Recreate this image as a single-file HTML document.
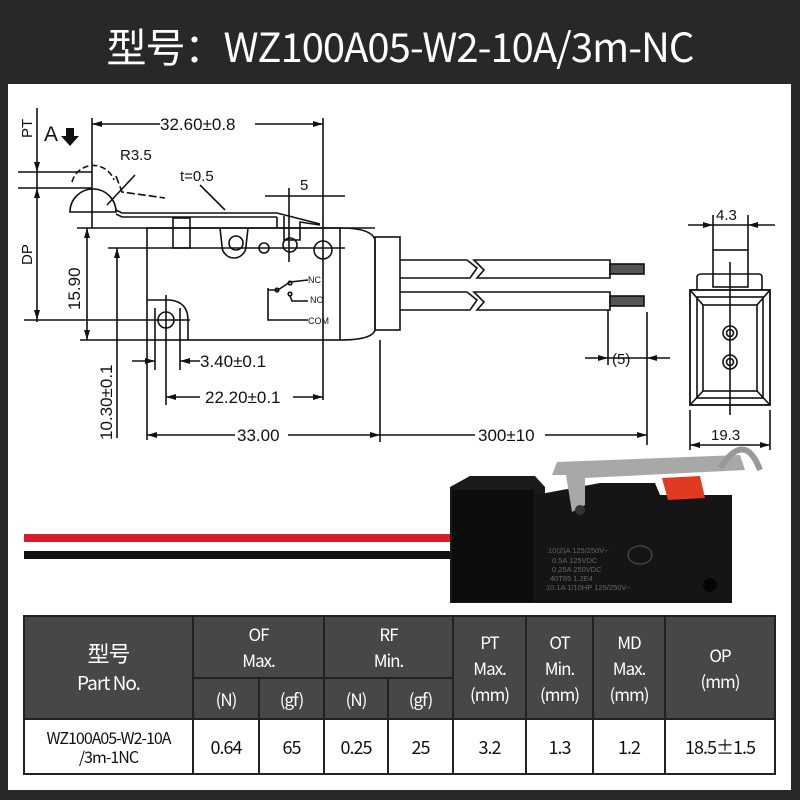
<!DOCTYPE html>
<html><head><meta charset="utf-8"><style>
html,body{margin:0;padding:0;background:#282828;}
body{width:800px;height:800px;position:relative;overflow:hidden;font-family:"Liberation Sans","Noto Sans CJK SC",sans-serif;}
.title{position:absolute;left:0;top:20px;width:800px;text-align:center;color:#fff;font-family:"Noto Sans CJK SC",sans-serif;font-size:40px;line-height:50px;letter-spacing:-1px;}
.panel{position:absolute;left:8px;top:84px;width:783px;height:706px;background:#fff;}
svg{position:absolute;left:0;top:0;}
table{position:absolute;left:23px;top:615px;width:753px;height:158px;border-collapse:collapse;font-family:"Noto Sans CJK SC",sans-serif;}
td{border:2px solid #222;text-align:center;padding:0;line-height:26px;font-size:17px;letter-spacing:-1px;}
.h{background:#474747;color:#fff;}
.d{background:#fff;color:#111;font-size:18px;}
</style></head><body>
<div class="title">型号：WZ100A05-W2-10A/3m-NC</div>
<div class="panel"></div>
<svg width="800" height="800" viewBox="0 0 800 800" font-family="Liberation Sans, sans-serif">
<g stroke="#111" stroke-width="1.6" fill="none">
<line x1="37" y1="108" x2="37" y2="322"/>
<line x1="18" y1="172" x2="92" y2="172"/>
<line x1="18" y1="188" x2="92" y2="188"/>
<line x1="24" y1="320" x2="190" y2="320"/>
<line x1="92" y1="118" x2="92" y2="228"/>
<line x1="323" y1="118" x2="323" y2="400"/>
<line x1="92" y1="124" x2="160" y2="124"/>
<line x1="255" y1="124" x2="323" y2="124"/>
<path d="M72 182 A22 22 0 0 1 114 180" stroke-dasharray="6 3"/>
<path d="M70 212 A23 23 0 0 1 116 212 Z"/>
<path d="M116 176 L122 192 L165 198" stroke-dasharray="8 3"/>
<line x1="107" y1="205" x2="135" y2="175"/>
<path d="M116 210 L122 213 L277 213 L320 224"/>
<path d="M116 214 L122 217 L277 217"/>
<line x1="200" y1="185" x2="225" y2="210"/>
<line x1="265" y1="196" x2="345" y2="196"/>
<line x1="289" y1="188" x2="289" y2="262"/>
<line x1="77" y1="228" x2="375" y2="228"/>
<line x1="108" y1="248" x2="345" y2="248"/>
<rect x="147" y="228" width="193" height="112"/>
<path d="M340 228 Q372 228 375 240 L375 330 Q372 340 340 340"/>
<rect x="375" y="237" width="25" height="93"/>
<rect x="173" y="218" width="17" height="30"/>
<path d="M220 228 L222 246 A12 12 0 0 0 246 246 L248 228"/>
<circle cx="236" cy="243" r="7"/>
<circle cx="264" cy="248" r="5"/>
<circle cx="290" cy="245" r="7"/>
<circle cx="323" cy="250" r="9"/>
<path d="M277 217 L277 228 M284 216 L284 240 L300 240 L300 222 L320 225"/>
<path d="M147 300 L170 300 Q188 302 188 320 L188 340"/>
<circle cx="166" cy="320" r="8"/>
<line x1="155" y1="308" x2="155" y2="370"/>
<line x1="180" y1="308" x2="180" y2="370"/>
<line x1="166" y1="295" x2="166" y2="405"/>
<path d="M268 288 L268 320 L308 320"/>
<path d="M268 290 L278 290 L290 282 L308 280"/>
<path d="M290 296 L292 301 L308 301"/>
<circle cx="277" cy="290" r="1.8"/>
<circle cx="290" cy="283" r="1.8"/>
<circle cx="290" cy="294" r="1.8"/>
<line x1="87" y1="228" x2="87" y2="340"/>
<line x1="80" y1="340" x2="147" y2="340"/>
<line x1="117" y1="248" x2="117" y2="438"/>
<line x1="132" y1="361" x2="155" y2="361"/>
<line x1="180" y1="361" x2="200" y2="361"/>
<line x1="166" y1="397" x2="200" y2="397"/>
<line x1="293" y1="397" x2="323" y2="397"/>
<line x1="147" y1="340" x2="147" y2="440"/>
<line x1="380" y1="340" x2="380" y2="442"/>
<line x1="147" y1="435" x2="235" y2="435"/>
<line x1="288" y1="435" x2="475" y2="435"/>
<line x1="545" y1="435" x2="647" y2="435"/>
<line x1="647" y1="312" x2="647" y2="445"/>
<path d="M400 260 L467 260 L477 268 L470 278 L400 278"/>
<path d="M474 260 L610 260 L610 278 L477 278 L484 270 Z"/>
<path d="M400 292 L467 292 L477 300 L470 310 L400 310"/>
<path d="M474 292 L610 292 L610 310 L477 310 L484 302 Z"/>
<rect x="610" y="264" width="34" height="10" fill="#555"/>
<rect x="610" y="296" width="34" height="10" fill="#555"/>
<line x1="608" y1="310" x2="608" y2="365"/>
<line x1="585" y1="358" x2="670" y2="358"/>
<line x1="688" y1="225" x2="775" y2="225"/>
<line x1="713" y1="215" x2="713" y2="250"/>
<line x1="748" y1="215" x2="748" y2="250"/>
<rect x="713" y="250" width="35" height="37"/>
<path d="M697 290 L697 277 Q697 274 702 274 L758 274 Q762 274 762 277 L762 290"/>
<rect x="690" y="290" width="80" height="115" stroke-width="1.8"/>
<rect x="697" y="297" width="66" height="101"/>
<rect x="703" y="305" width="54" height="86"/>
<line x1="690" y1="290" x2="703" y2="305"/><line x1="770" y1="290" x2="757" y2="305"/>
<line x1="690" y1="405" x2="703" y2="391"/><line x1="770" y1="405" x2="757" y2="391"/>
<circle cx="730" cy="333" r="7"/><circle cx="730" cy="333" r="3.5"/>
<circle cx="730" cy="362" r="7"/><circle cx="730" cy="362" r="3.5"/>
<line x1="730" y1="262" x2="730" y2="415"/>
<line x1="690" y1="410" x2="690" y2="450"/>
<line x1="770" y1="410" x2="770" y2="450"/>
<line x1="690" y1="445" x2="770" y2="445"/>
</g>
<g fill="#111">
<polygon points="92,124 102,121 102,127"/><polygon points="323,124 313,121 313,127"/>
<polygon points="87,228 84,238 90,238"/><polygon points="87,340 84,330 90,330"/>
<polygon points="117,248 114,258 120,258"/><polygon points="37,172 34,162 40,162"/><polygon points="37,188 34,198 40,198"/><polygon points="37,320 34,310 40,310"/>
<polygon points="155,361 145,358 145,364"/><polygon points="180,361 190,358 190,364"/>
<polygon points="166,397 176,394 176,400"/><polygon points="323,397 313,394 313,400"/>
<polygon points="147,435 157,432 157,438"/><polygon points="380,435 370,432 370,438"/><polygon points="647,435 637,432 637,438"/>
<polygon points="608,358 598,355 598,361"/><polygon points="647,358 657,355 657,361"/>
<polygon points="713,225 703,222 703,228"/><polygon points="748,225 758,222 758,228"/>
<polygon points="690,445 700,442 700,448"/><polygon points="770,445 760,442 760,448"/>
<polygon points="66,128 74,128 74,136 79,136 70,146 61,136 66,136"/>
</g>
<g fill="#111" font-size="17">
<text x="160" y="130">32.60±0.8</text>
<text x="120" y="160" font-size="15">R3.5</text>
<text x="180" y="181" font-size="15">t=0.5</text>
<text x="300" y="190" font-size="15">5</text>
<text x="44" y="141" font-size="21">A</text>
<text x="308" y="283" font-size="9">NC</text>
<text x="310" y="303" font-size="9">NO</text>
<text x="308" y="324" font-size="9">COM</text>
<text x="200" y="367">3.40±0.1</text>
<text x="205" y="403">22.20±0.1</text>
<text x="237" y="441">33.00</text>
<text x="478" y="441">300±10</text>
<text x="612" y="364" font-size="15">(5)</text>
<text x="716" y="220" font-size="15">4.3</text>
<text x="711" y="440" font-size="15">19.3</text>
<text transform="translate(32,138) rotate(-90)" font-size="15">PT</text>
<text transform="translate(32,265) rotate(-90)" font-size="15">DP</text>
<text transform="translate(80,310) rotate(-90)">15.90</text>
<text transform="translate(112,440) rotate(-90)">10.30±0.1</text>
</g>
<rect x="24" y="534" width="430" height="8" fill="#d81c2a"/>
<rect x="24" y="551" width="430" height="8" fill="#111"/>
<polygon points="450,487 470,476 535,476 545,487 545,603 450,603" fill="#1a1a1a"/>
<rect x="452" y="490" width="82" height="112" fill="#0d0d0d"/>
<polygon points="535,495 600,483 655,483 660,495 732,495 732,603 535,603" fill="#151515"/>
<polygon points="662,478 700,476 705,498 668,500" fill="#e03a20"/>
<polygon points="557,462 740,455 745,470 585,478 585,505 572,512 566,475 552,475" fill="#a8a8a8"/>
<path d="M720 468 Q745 430 760 470" stroke="#999" stroke-width="6" fill="none"/>
<circle cx="580" cy="510" r="5" fill="#333"/>
<ellipse cx="640" cy="555" rx="12" ry="9" fill="none" stroke="#555"/>
<g fill="#666" font-size="7.5"><text x="548" y="553">10(2)A 125/250V~</text><text x="552" y="563">0.5A 125VDC</text><text x="552" y="572">0.25A 250VDC</text><text x="550" y="581">40T85 1.2E4</text><text x="546" y="590">10.1A 1/10HP 125/250V~</text></g>
<circle cx="710" cy="585" r="7" fill="#050505"/>
</svg>
<table>
<tr style="height:62px"><td class="h" rowspan="2" style="width:167px;font-size:19px;line-height:28px"><span style="font-size:22px">型号</span><br>Part No.</td><td class="h" colspan="2">OF<br>Max.</td><td class="h" colspan="2">RF<br>Min.</td><td class="h" rowspan="2" style="width:71px">PT<br>Max.<br>(mm)</td><td class="h" rowspan="2" style="width:65px">OT<br>Min.<br>(mm)</td><td class="h" rowspan="2" style="width:70px">MD<br>Max.<br>(mm)</td><td class="h" rowspan="2">OP<br>(mm)</td></tr>
<tr style="height:41px"><td class="h" style="width:64px">(N)</td><td class="h" style="width:63px">(gf)</td><td class="h" style="width:62px">(N)</td><td class="h" style="width:63px">(gf)</td></tr>
<tr style="height:55px"><td class="d" style="font-size:16px;line-height:19px">WZ100A05-W2-10A<br>/3m-1NC</td><td class="d">0.64</td><td class="d">65</td><td class="d">0.25</td><td class="d">25</td><td class="d">3.2</td><td class="d">1.3</td><td class="d">1.2</td><td class="d">18.5±1.5</td></tr>
</table>
</body></html>
